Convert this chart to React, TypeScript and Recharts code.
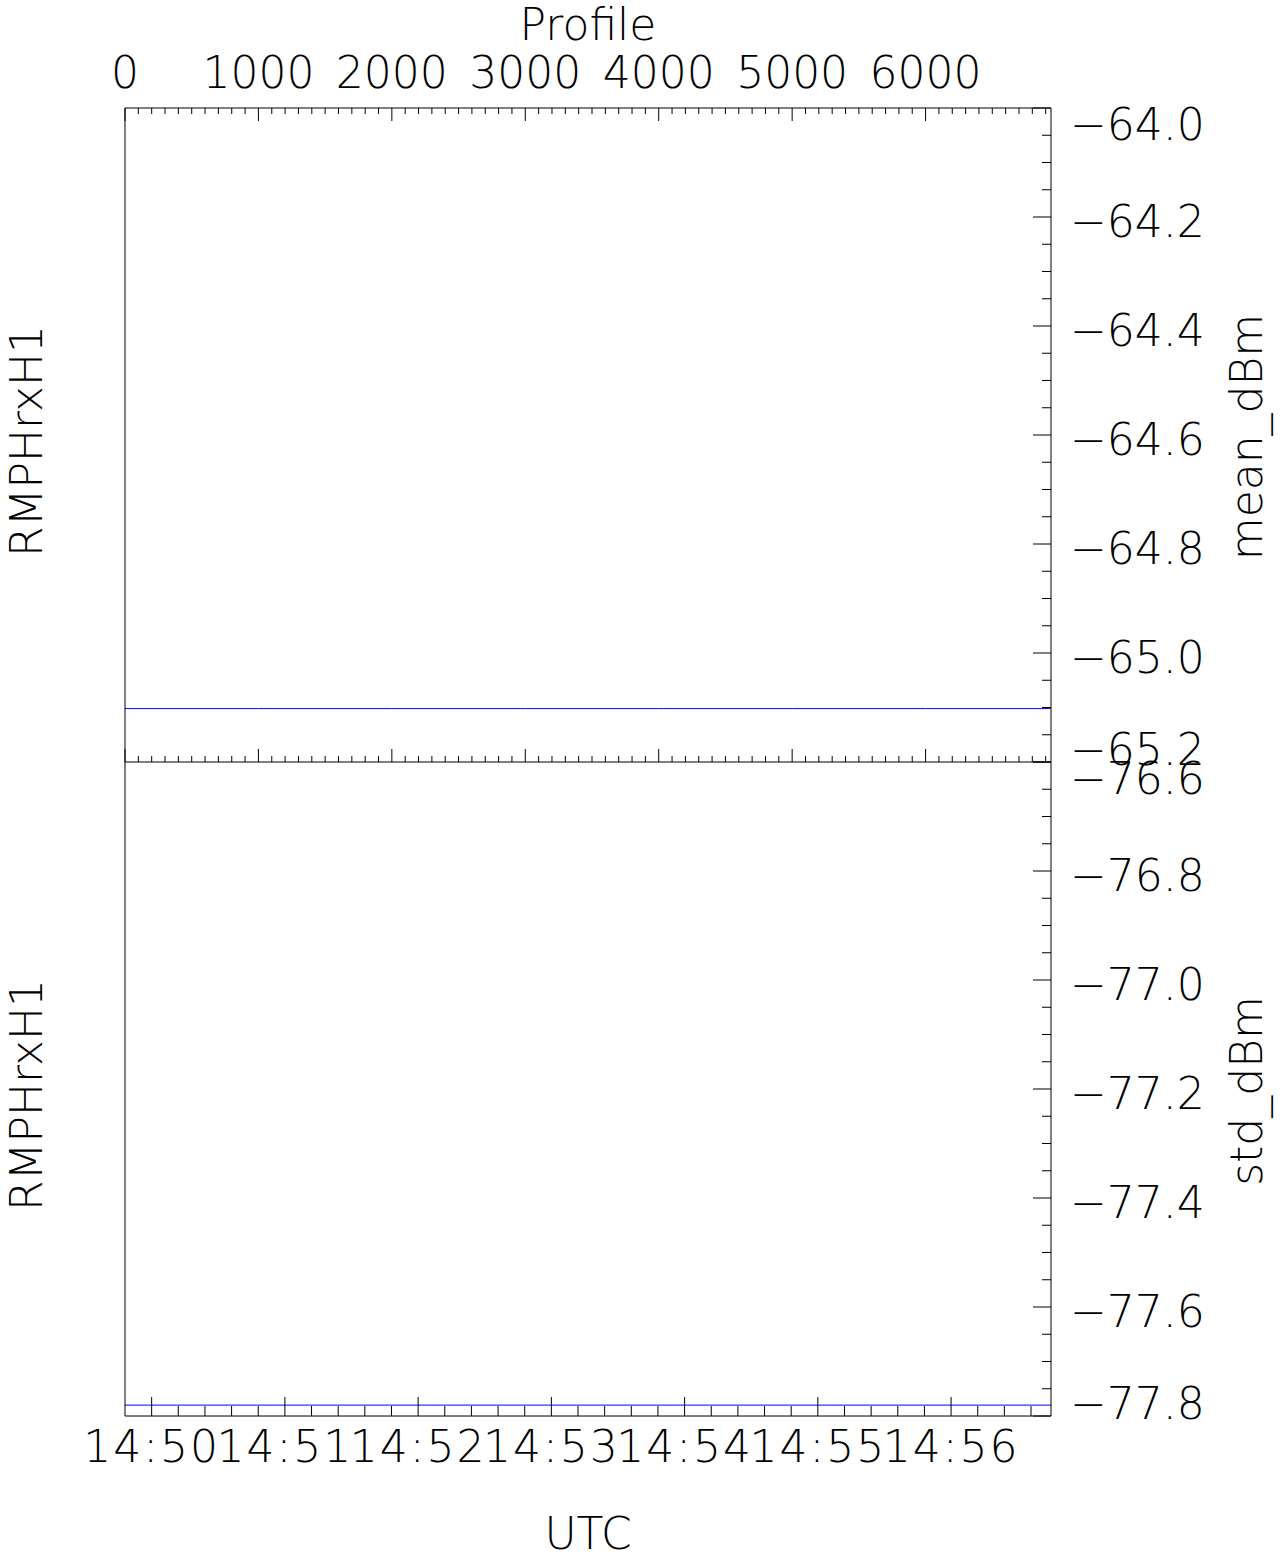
import React from 'react';
import { LineChart, Line, XAxis, YAxis } from 'recharts';

const FONT = "'DejaVu Sans', sans-serif";
const FS = 44;

// top panel: profile index axis and mean power
const profileMajor = [0, 1000, 2000, 3000, 4000, 5000, 6000];
const profileMax = 6940;
const profileIdx = [0, 1000, 2000, 3000, 4000, 5000, 6000, 6936];
const meanDbm = [-65.102, -65.102, -65.102, -65.102, -65.102, -65.102, -65.102, -65.102];
const meanMajor = [-64.0, -64.2, -64.4, -64.6, -64.8, -65.0, -65.2];

// bottom panel: UTC axis and std power
const utcMajor = ['14:50', '14:51', '14:52', '14:53', '14:54', '14:55', '14:56'];
const utcStart = 53388; // 14:49:48
const utcEnd = 53805;
const utcSec = [53388, 53460, 53520, 53580, 53640, 53700, 53760, 53805];
const stdDbm = [-77.78, -77.78, -77.78, -77.78, -77.78, -77.78, -77.78, -77.78];
const stdMajor = [-76.6, -76.8, -77.0, -77.2, -77.4, -77.6, -77.8];

const toSec = (s: string) => {
  const [h, m] = s.split(':').map(Number);
  return h * 3600 + m * 60;
};
const utcMajorSec = utcMajor.map(toSec);

const steps = (start: number, step: number, end: number) => {
  const out: number[] = [];
  for (let i = 0; start + i * step <= end + 1e-9; i++) out.push(+(start + i * step).toFixed(4));
  return out;
};

const profileTicks = steps(0, 100, profileMax);
const utcTicks = steps(utcMajorSec[0], 12, utcEnd);
const meanTicks = steps(-65.2, 0.05, -64.0);
const stdTicks = steps(-77.8, 0.05, -76.6);

const isIn = (arr: number[], v: number) => arr.some((m) => Math.abs(m - v) < 1e-6);

const txt = { fontFamily: FONT, fontSize: FS, fontWeight: 200, fill: '#000' } as const;

const ProfileTick = (p: any) => {
  const { x, y, payload, side } = p;
  const major = isIn(profileMajor, payload.value);
  const len = major ? 13 : 6;
  return (
    <g>
      <line x1={x} x2={x} y1={y} y2={side === 'top' ? y + len : y - len} stroke="#000" />
      {major && side === 'top' && (
        <text x={x} y={y - 20} textAnchor="middle" {...txt}>{payload.value}</text>
      )}
    </g>
  );
};

const UtcTick = (p: any) => {
  const { x, y, payload } = p;
  const i = utcMajorSec.findIndex((s) => s === payload.value);
  const major = i >= 0;
  return (
    <g>
      <line x1={x} x2={x} y1={y} y2={y - (major ? 19 : 10)} stroke="#000" />
      {major && (
        <text x={x} y={y + 46} textAnchor="middle" letterSpacing={2} {...txt}>{utcMajor[i]}</text>
      )}
    </g>
  );
};

const ValueTick = (p: any) => {
  const { x, y, payload, side, majors } = p;
  const major = isIn(majors, payload.value);
  const len = major ? 18 : 9;
  if (side === 'left') {
    return <line x1={x} x2={x + len} y1={y} y2={y} stroke="#000" />;
  }
  const top = Math.abs(payload.value - majors[0]) < 1e-6;
  const bottom = Math.abs(payload.value - majors[majors.length - 1]) < 1e-6;
  const dy = top ? 32 : bottom ? 3 : 20;
  return (
    <g>
      <line x1={x} x2={x - len} y1={y} y2={y} stroke="#000" />
      {major && (
        <text x={x + 19} y={y + dy} textAnchor="start" {...txt}>
          {'\u2212' + Math.abs(payload.value).toFixed(1)}
        </text>
      )}
    </g>
  );
};

const vTitle = (value: string, dx: number, dy: number) => (props: any) => {
  const vb = props.viewBox || {};
  const cx = vb.x + dx;
  const cy = vb.y + vb.height / 2 + dy;
  return (
    <text x={cx} y={cy} textAnchor="middle" transform={`rotate(-90, ${cx}, ${cy})`} {...txt}>
      {value}
    </text>
  );
};

const hTitle = (value: string, dy: number) => (props: any) => {
  const vb = props.viewBox || {};
  return (
    <text x={vb.x + vb.width / 2} y={vb.y + dy} textAnchor="middle" {...txt}>
      {value}
    </text>
  );
};

const axisLine = { stroke: '#000', strokeWidth: 1 };

export default function App() {
  const topData = profileIdx.map((p, i) => ({ profile: p, mean: meanDbm[i] }));
  const botData = utcSec.map((s, i) => ({ utc: s, std: stdDbm[i] }));

  return (
    <div style={{ position: 'absolute', left: 0, top: 0, width: 1282, height: 1559, background: '#fff', overflow: 'hidden' }}>
      <div style={{ position: 'absolute', left: 0, top: 720 }}>
        <LineChart width={1282} height={839} data={botData} margin={{ top: 42, right: 230, bottom: 142, left: 124 }}>
          <XAxis
            xAxisId="utc" orientation="bottom" type="number" dataKey="utc"
            domain={[utcStart, utcEnd]} ticks={utcTicks} interval={0}
            height={1} tickSize={0} tickMargin={0} tickLine={false} axisLine={axisLine}
            tick={(p: any) => <UtcTick {...p} />}
            label={hTitle('UTC', 133)}
          />
          <YAxis
            yAxisId="left" orientation="left" type="number"
            domain={[-77.8, -76.6]} ticks={stdTicks} interval={0}
            width={1} tickSize={0} tickMargin={0} tickLine={false} axisLine={axisLine}
            tick={(p: any) => <ValueTick {...p} side="left" majors={stdMajor} />}
            label={vTitle('RMPHrxH1', -82, 6)}
          />
          <YAxis
            yAxisId="right" orientation="right" type="number"
            domain={[-77.8, -76.6]} ticks={stdTicks} interval={0}
            width={1} tickSize={0} tickMargin={0} tickLine={false} axisLine={axisLine}
            tick={(p: any) => <ValueTick {...p} side="right" majors={stdMajor} />}
            label={vTitle('std_dBm', 211, 2)}
          />
          <Line
            xAxisId="utc" yAxisId="right" dataKey="std" type="linear"
            stroke="#0000ff" strokeWidth={1} dot={false} activeDot={false}
            isAnimationActive={false}
          />
        </LineChart>
      </div>
      <div style={{ position: 'absolute', left: 0, top: 0 }}>
        <LineChart width={1282} height={800} data={topData} margin={{ top: 107, right: 230, bottom: 37, left: 124 }}>
          <XAxis
            xAxisId="top" orientation="top" type="number" dataKey="profile"
            domain={[0, profileMax]} ticks={profileTicks} interval={0}
            height={1} tickSize={0} tickMargin={0} tickLine={false} axisLine={axisLine}
            tick={(p: any) => <ProfileTick {...p} side="top" />}
            label={hTitle('Profile', -67)}
          />
          <XAxis
            xAxisId="bottom" orientation="bottom" type="number" dataKey="profile"
            domain={[0, profileMax]} ticks={profileTicks} interval={0}
            height={1} tickSize={0} tickMargin={0} tickLine={false} axisLine={axisLine}
            tick={(p: any) => <ProfileTick {...p} side="bottom" />}
          />
          <YAxis
            yAxisId="left" orientation="left" type="number"
            domain={[-65.2, -64.0]} ticks={meanTicks} interval={0}
            width={1} tickSize={0} tickMargin={0} tickLine={false} axisLine={axisLine}
            tick={(p: any) => <ValueTick {...p} side="left" majors={meanMajor} />}
            label={vTitle('RMPHrxH1', -82, 6)}
          />
          <YAxis
            yAxisId="right" orientation="right" type="number"
            domain={[-65.2, -64.0]} ticks={meanTicks} interval={0}
            width={1} tickSize={0} tickMargin={0} tickLine={false} axisLine={axisLine}
            tick={(p: any) => <ValueTick {...p} side="right" majors={meanMajor} />}
            label={vTitle('mean_dBm', 211, 2)}
          />
          <Line
            xAxisId="top" yAxisId="right" dataKey="mean" type="linear"
            stroke="#0000ff" strokeWidth={1} dot={false} activeDot={false}
            isAnimationActive={false}
          />
        </LineChart>
      </div>
    </div>
  );
}
